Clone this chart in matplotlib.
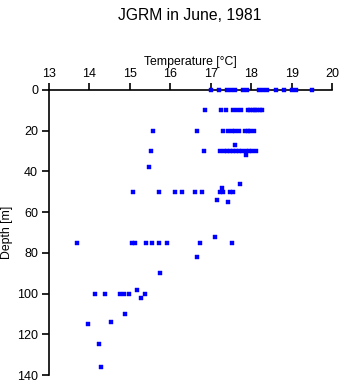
import matplotlib
matplotlib.use("Agg")
import matplotlib.pyplot as plt

# Depth [m] and Temperature [°C] observations
depth = [0]*15 + [10]*13 + [20]*11 + [27] + [30]*14 + [32, 38, 46, 48] + [50]*10 + [54, 55, 72] \
        + [75]*9 + [82, 90, 98] + [100]*6 + [102, 110, 114, 115, 125, 136]
temperature = [
    # 0 m
    17.0, 17.2, 17.4, 17.5, 17.6, 17.8, 17.9, 18.2, 18.3, 18.4, 18.6, 18.8, 19.0, 19.1, 19.5,
    # 10 m
    16.87, 17.25, 17.38, 17.55, 17.65, 17.75, 17.92, 17.98, 18.04, 18.09, 18.15, 18.21, 18.27,
    # 20 m
    15.58, 16.67, 17.30, 17.43, 17.52, 17.61, 17.69, 17.84, 17.91, 17.98, 18.07,
    # 27 m
    17.60,
    # 30 m
    15.54, 16.83, 17.24, 17.32, 17.40, 17.48, 17.56, 17.63, 17.70, 17.78, 17.86, 17.95, 18.01, 18.13,
    # 32, 38, 46, 48 m
    17.87, 15.49, 17.73, 17.28,
    # 50 m
    15.09, 15.73, 16.13, 16.30, 16.62, 16.79, 17.22, 17.30, 17.47, 17.55,
    # 54, 55, 72 m
    17.16, 17.43, 17.11,
    # 75 m
    13.71, 15.07, 15.14, 15.40, 15.55, 15.72, 15.93, 16.74, 17.53,
    # 82, 90, 98 m
    16.67, 15.76, 15.18,
    # 100 m
    14.14, 14.39, 14.76, 14.86, 14.98, 15.38,
    # deeper
    15.28, 14.89, 14.54, 13.97, 14.24, 14.29,
]
x_ticks = [13, 14, 15, 16, 17, 18, 19, 20]
y_ticks = [0, 20, 40, 60, 80, 100, 120, 140]

plt.rcParams['font.family'] = ['Liberation Sans', 'DejaVu Sans']

fig = plt.figure(figsize=(3.41, 3.84), dpi=100)
ax = fig.add_axes([48.5/341, 1 - 375/384, (332.3 - 48.5)/341, (375 - 90)/384])

ax.plot(temperature, depth, linestyle='none', marker='s', markersize=2.6,
        color='#0000ff', markeredgecolor='#0000ff', markeredgewidth=0.3,
        clip_on=False, zorder=5)

ax.set_xlim(13, 20)
ax.set_ylim(140, 0)
ax.set_xticks(x_ticks)
ax.set_yticks(y_ticks)
ax.xaxis.tick_top()
ax.xaxis.set_label_position('top')
ax.set_xlabel('Temperature [°C]', fontsize=8.8, labelpad=2)
ax.set_ylabel('Depth [m]', fontsize=8.8, labelpad=3)
ax.tick_params(axis='both', direction='out', length=5, width=1.2, labelsize=9, pad=2.5)

for s in ['right', 'bottom']:
    ax.spines[s].set_visible(False)
for s in ['top', 'left']:
    ax.spines[s].set_linewidth(1.2)
ax.set_facecolor('white')

fig.text(190/341, 1 - 15/384, 'JGRM in June, 1981', ha='center', va='center', fontsize=11.3)

fig.savefig('out.png', dpi=100, facecolor='white')
